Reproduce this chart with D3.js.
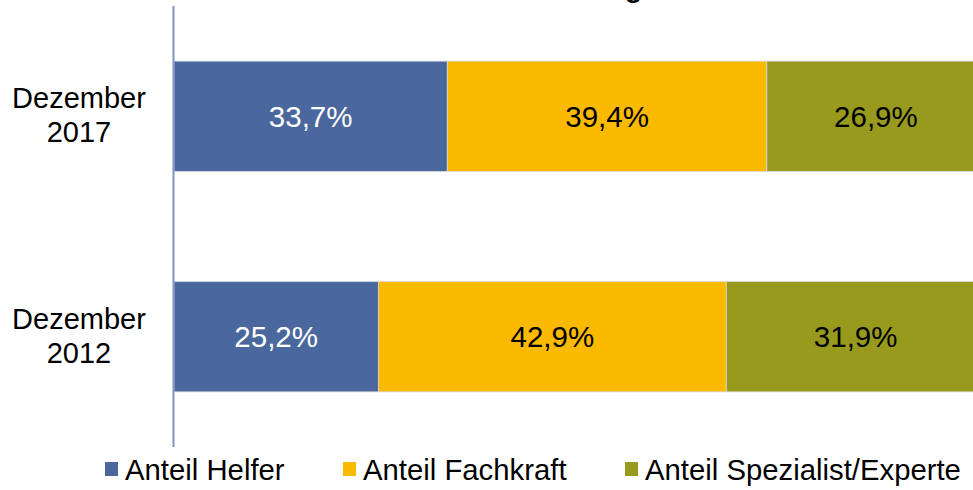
<!DOCTYPE html>
<html>
<head>
<meta charset="utf-8">
<script src="https://cdn.jsdelivr.net/npm/d3@7"></script>
<style>
  body { margin: 0; background: #fff; }
  svg { display: block; font-family: "Liberation Sans", Arial, sans-serif; }
</style>
</head>
<body>
<div id="chart"></div>
<script>
// Data
const categories = ["Dezember 2017", "Dezember 2012"];
const seriesNames = ["Anteil Helfer", "Anteil Fachkraft", "Anteil Spezialist/Experte"];
const helfer = [33.7, 25.2];
const fachkraft = [39.4, 42.9];
const spezialist = [26.9, 31.9];
const colors = ["#4a689e", "#fbb900", "#989a1e"];
const labelColors = ["#ffffff", "#000000", "#000000"];
const title = "Anteile nach Anforderung";

const width = 973, height = 490;

const svg = d3.select("#chart").append("svg")
  .attr("width", width)
  .attr("height", height);

// title sits above the picture, only the descender shows
svg.append("text")
  .attr("x", 642)
  .attr("y", -3)
  .attr("text-anchor", "end")
  .style("font-size", "28px")
  .style("font-weight", "bold")
  .text(title);

// Scales
var x = d3.scaleLinear()
  .domain([0, 100])
  .range([174, 985]);

var y = d3.scaleBand()
  .domain(categories)
  .range([6, 447])
  .paddingInner(0.5)
  .paddingOuter(0.25);

// stack the series
const rows = categories.map((c, i) => ({
  cat: c,
  "Anteil Helfer": helfer[i],
  "Anteil Fachkraft": fachkraft[i],
  "Anteil Spezialist/Experte": spezialist[i]
}));
const stacked = d3.stack().keys(seriesNames)(rows);

const groups = svg.selectAll(".series")
  .data(stacked)
  .enter().append("g")
  .attr("class", "series");

groups.selectAll("rect")
  .data((s, si) => s.map(d => ({ d: d, si: si })))
  .enter().append("rect")
  .attr("x", e => x(e.d[0]))
  .attr("y", e => y(e.d.data.cat))
  .attr("width", e => x(e.d[1]) - x(e.d[0]))
  .attr("height", y.bandwidth())
  .attr("fill", e => colors[e.si])
  .attr("stroke", "#d9d9d9")
  .attr("stroke-width", 0.8);

// value labels
groups.selectAll("text")
  .data((s, si) => s.map(d => ({ d: d, si: si })))
  .enter().append("text")
  .attr("x", e => (x(e.d[0]) + x(e.d[1])) / 2)
  .attr("y", e => y(e.d.data.cat) + y.bandwidth() / 2)
  .attr("dy", "0.36em")
  .attr("text-anchor", "middle")
  .attr("fill", e => labelColors[e.si])
  .style("font-size", "29.5px")
  .text(e => (e.d[1] - e.d[0]).toFixed(1).replace(".", ",") + "%");

// Y axis (line only) with two-line category labels
svg.append("line")
  .attr("x1", 173.5).attr("x2", 173.5)
  .attr("y1", y.range()[0]).attr("y2", y.range()[1])
  .attr("stroke", "#7f93c2")
  .attr("stroke-width", 2);

const catLabels = svg.selectAll(".cat")
  .data(categories)
  .enter().append("text")
  .attr("class", "cat")
  .attr("text-anchor", "middle")
  .style("font-size", "29px")
  .attr("fill", "#000");

catLabels.each(function(c) {
  const parts = c.split(" ");
  const cy = y(c) + y.bandwidth() / 2;
  const t = d3.select(this);
  parts.forEach((p, i) => {
    t.append("tspan")
      .attr("x", 79)
      .attr("y", cy - 8 + (i * 34))
      .text(p);
  });
});

// Legend
const legendX = [105, 343, 625];
const legend = svg.selectAll(".legend")
  .data(seriesNames)
  .enter().append("g")
  .attr("class", "legend")
  .attr("transform", (d, i) => "translate(" + legendX[i] + ",462)");

legend.append("rect")
  .attr("width", 13)
  .attr("height", 14)
  .attr("fill", (d, i) => colors[i]);

legend.append("text")
  .attr("x", 20)
  .attr("y", 7)
  .attr("dy", "0.36em")
  .style("font-size", "29.3px")
  .text(d => d);
</script>
</body>
</html>
